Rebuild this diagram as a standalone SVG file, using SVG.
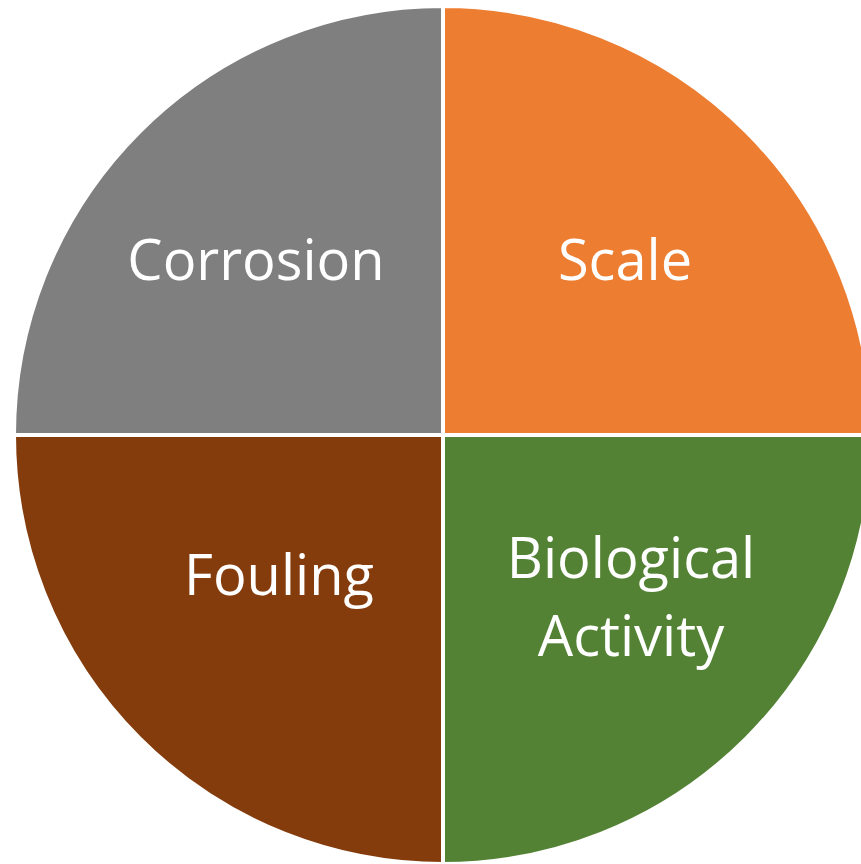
<svg xmlns="http://www.w3.org/2000/svg" width="861" height="864" viewBox="0 0 861 864">
<style>
.s{stroke:#fff;stroke-width:4}
.t{font-family:"Open Sans","Liberation Sans",sans-serif;font-size:56px;fill:#fff;text-anchor:middle}
</style>
<rect width="861" height="864" fill="#fff"/>
<g id="corrosion"><path class="s" fill="#7F7F7F" d="M443,435 L14,435 A429,429 0 0 1 443,6 Z"/><text class="t" x="256" y="280">Corrosion</text></g>
<g id="scale"><path class="s" fill="#ED7D31" d="M443,435 L443,6 A429,429 0 0 1 872,435 Z"/><text class="t" x="625" y="280">Scale</text></g>
<g id="biological"><path class="s" fill="#548235" d="M443,435 L872,435 A429,429 0 0 1 443,864 Z"/><text class="t" x="631" y="578">Biological</text><text class="t" x="631" y="656">Activity</text></g>
<g id="fouling"><path class="s" fill="#843C0C" d="M443,435 L443,864 A429,429 0 0 1 14,435 Z"/><text class="t" x="279" y="595">Fouling</text></g>
</svg>
